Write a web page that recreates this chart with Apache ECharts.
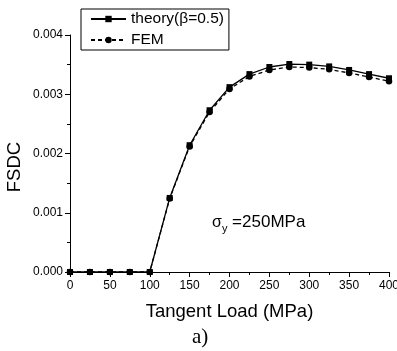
<!DOCTYPE html>
<html><head><meta charset="utf-8">
<script src="https://cdn.jsdelivr.net/npm/echarts@6/dist/echarts.min.js"></script>
<style>html,body{margin:0;padding:0;background:#fff}#c{width:397px;height:351px}</style>
</head><body><div id="c"></div>
<script>
const loads = [0,25,50,75,100,125,150,175,200,225,250,275,300,325,350,375,400];
const theory = [0,0,0,0,0,0.00125,0.00214,0.00273,0.00312,0.00334,0.00346,0.00351,0.00350,0.00347,0.00341,0.00334,0.00327];
const fem = [0,0,0,0,0,0.00124,0.00212,0.00270,0.00309,0.00330,0.00341,0.00346,0.00345,0.00342,0.00336,0.00329,0.00322];
const seriesNames = ['theory(β=0.5)', 'FEM'];

const chart = echarts.init(document.getElementById('c'), null, {renderer:'canvas'});
const font = 'Liberation Sans, Arial, sans-serif';
chart.setOption({
  animation:false,
  textStyle:{fontFamily:font},
  grid:{left:70,right:8,top:35,bottom:79,containLabel:false,outerBoundsMode:'none'},
  legend:{
    left:81, top:9, orient:'vertical', itemGap:3, itemWidth:35, itemHeight:8,
    borderColor:'#000', borderWidth:1, padding:[1,5,1,9],
    textStyle:{fontSize:15.5,lineHeight:18,color:'#000',fontFamily:font},
    data:seriesNames
  },
  xAxis:{
    type:'value', min:0, max:400, interval:50,
    name:'Tangent Load (MPa)', nameLocation:'middle', nameGap:30,
    nameTextStyle:{fontSize:18.5,color:'#000',fontFamily:font},
    axisLine:{lineStyle:{color:'#000',width:1}},
    axisTick:{show:true,inside:false,length:5,lineStyle:{color:'#000'}},
    minorTick:{show:true,splitNumber:2,length:3,lineStyle:{color:'#000'}},
    axisLabel:{fontSize:12,color:'#000',margin:8,fontFamily:font},
    splitLine:{show:false}
  },
  yAxis:{
    type:'value', min:0, max:0.004, interval:0.001,
    axisLine:{show:true,lineStyle:{color:'#000',width:1}},
    axisTick:{show:true,inside:false,length:5,lineStyle:{color:'#000'}},
    minorTick:{show:true,splitNumber:2,length:3,lineStyle:{color:'#000'}},
    axisLabel:{fontSize:12,color:'#000',margin:7,fontFamily:font,formatter:v=>v.toFixed(3)},
    splitLine:{show:false}
  },
  series:[
    {name:seriesNames[0],type:'line',data:loads.map((x,i)=>[x,theory[i]]),
     symbol:'rect',symbolSize:6,itemStyle:{color:'#000'},
     lineStyle:{color:'#000',width:1.3,type:'solid'}},
    {name:seriesNames[1],type:'line',data:loads.map((x,i)=>[x,fem[i]]),
     symbol:'circle',symbolSize:6.5,itemStyle:{color:'#000'},
     lineStyle:{color:'#000',width:1.3,type:[4,3]}}
  ],
  graphic:[
    {type:'text',x:15,y:167,rotation:Math.PI/2,style:{text:'FSDC',fontSize:18.5,fontFamily:font,fill:'#000',align:'center',verticalAlign:'middle'}},
    {type:'text',left:212,top:214,style:{
      text:'{s|σ}{sub|y}{t| =250MPa}',
      rich:{
        s:{fontSize:16,fontFamily:font,fill:'#000'},
        sub:{fontSize:11,fontFamily:font,fill:'#000',padding:[12,0,0,0]},
        t:{fontSize:17,fontFamily:font,fill:'#000'}
      }}},
    {type:'text',left:192,top:327,style:{text:'a)',fontSize:21,fontFamily:'Liberation Serif, Times New Roman, serif',fill:'#000'}}
  ]
});
</script></body></html>
